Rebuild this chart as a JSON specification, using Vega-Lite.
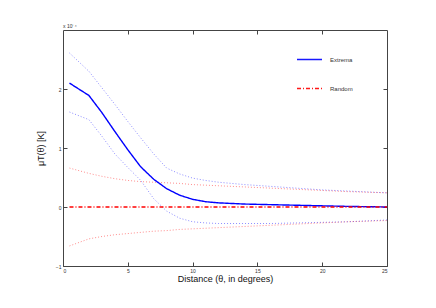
{
  "$schema": "https://vega.github.io/schema/vega-lite/v6.json",
  "width": 324,
  "height": 236,
  "autosize": {"type": "none"},
  "padding": {"left": 63, "top": 30, "right": 49, "bottom": 42},
  "background": "white",
  "config": {
    "font": "Liberation Sans",
    "view": {"stroke": "#444", "strokeWidth": 1},
    "axis": {"grid": false, "domain": false, "tickColor": "#444", "labelColor": "#333", "labelFontSize": 5, "tickSize": -4, "labelPadding": 6, "titleFontWeight": "normal", "titleColor": "#111"}
  },
  "title": {"text": "x 10⁻⁴", "anchor": "start", "fontSize": 5, "fontWeight": "normal", "color": "#333", "offset": 1, "frame": "group"},
  "datasets": {
    "d": [
      {"x":0.5,"series":"Extrema","stat":"mean","y":2.10},
      {"x":2,"series":"Extrema","stat":"mean","y":1.89},
      {"x":3,"series":"Extrema","stat":"mean","y":1.60},
      {"x":4,"series":"Extrema","stat":"mean","y":1.28},
      {"x":5,"series":"Extrema","stat":"mean","y":0.97},
      {"x":6,"series":"Extrema","stat":"mean","y":0.68},
      {"x":7,"series":"Extrema","stat":"mean","y":0.47},
      {"x":8,"series":"Extrema","stat":"mean","y":0.31},
      {"x":9,"series":"Extrema","stat":"mean","y":0.20},
      {"x":10,"series":"Extrema","stat":"mean","y":0.13},
      {"x":11,"series":"Extrema","stat":"mean","y":0.09},
      {"x":12,"series":"Extrema","stat":"mean","y":0.07},
      {"x":14,"series":"Extrema","stat":"mean","y":0.05},
      {"x":16,"series":"Extrema","stat":"mean","y":0.04},
      {"x":18,"series":"Extrema","stat":"mean","y":0.03},
      {"x":20,"series":"Extrema","stat":"mean","y":0.02},
      {"x":22,"series":"Extrema","stat":"mean","y":0.01},
      {"x":25,"series":"Extrema","stat":"mean","y":0.0},
      {"x":0.5,"series":"Extrema","stat":"upper","y":2.61},
      {"x":2,"series":"Extrema","stat":"upper","y":2.30},
      {"x":3,"series":"Extrema","stat":"upper","y":2.02},
      {"x":4,"series":"Extrema","stat":"upper","y":1.74},
      {"x":5,"series":"Extrema","stat":"upper","y":1.45},
      {"x":6,"series":"Extrema","stat":"upper","y":1.17},
      {"x":7,"series":"Extrema","stat":"upper","y":0.90},
      {"x":8,"series":"Extrema","stat":"upper","y":0.66},
      {"x":9,"series":"Extrema","stat":"upper","y":0.56},
      {"x":10,"series":"Extrema","stat":"upper","y":0.49},
      {"x":11,"series":"Extrema","stat":"upper","y":0.45},
      {"x":12,"series":"Extrema","stat":"upper","y":0.42},
      {"x":14,"series":"Extrema","stat":"upper","y":0.38},
      {"x":16,"series":"Extrema","stat":"upper","y":0.35},
      {"x":18,"series":"Extrema","stat":"upper","y":0.32},
      {"x":20,"series":"Extrema","stat":"upper","y":0.29},
      {"x":22,"series":"Extrema","stat":"upper","y":0.27},
      {"x":25,"series":"Extrema","stat":"upper","y":0.24},
      {"x":0.5,"series":"Extrema","stat":"lower","y":1.61},
      {"x":2,"series":"Extrema","stat":"lower","y":1.48},
      {"x":3,"series":"Extrema","stat":"lower","y":1.20},
      {"x":4,"series":"Extrema","stat":"lower","y":0.90},
      {"x":5,"series":"Extrema","stat":"lower","y":0.67},
      {"x":6,"series":"Extrema","stat":"lower","y":0.45},
      {"x":7,"series":"Extrema","stat":"lower","y":0.14},
      {"x":8,"series":"Extrema","stat":"lower","y":-0.07},
      {"x":9,"series":"Extrema","stat":"lower","y":-0.19},
      {"x":10,"series":"Extrema","stat":"lower","y":-0.25},
      {"x":11,"series":"Extrema","stat":"lower","y":-0.27},
      {"x":12,"series":"Extrema","stat":"lower","y":-0.28},
      {"x":14,"series":"Extrema","stat":"lower","y":-0.28},
      {"x":16,"series":"Extrema","stat":"lower","y":-0.28},
      {"x":18,"series":"Extrema","stat":"lower","y":-0.27},
      {"x":20,"series":"Extrema","stat":"lower","y":-0.26},
      {"x":22,"series":"Extrema","stat":"lower","y":-0.25},
      {"x":25,"series":"Extrema","stat":"lower","y":-0.22},
      {"x":0.5,"series":"Random","stat":"mean","y":0},
      {"x":25,"series":"Random","stat":"mean","y":0},
      {"x":0.5,"series":"Random","stat":"upper","y":0.66},
      {"x":2,"series":"Random","stat":"upper","y":0.57},
      {"x":3,"series":"Random","stat":"upper","y":0.52},
      {"x":4,"series":"Random","stat":"upper","y":0.48},
      {"x":5,"series":"Random","stat":"upper","y":0.45},
      {"x":6,"series":"Random","stat":"upper","y":0.43},
      {"x":7,"series":"Random","stat":"upper","y":0.42},
      {"x":8,"series":"Random","stat":"upper","y":0.41},
      {"x":9,"series":"Random","stat":"upper","y":0.40},
      {"x":10,"series":"Random","stat":"upper","y":0.38},
      {"x":12,"series":"Random","stat":"upper","y":0.36},
      {"x":14,"series":"Random","stat":"upper","y":0.34},
      {"x":16,"series":"Random","stat":"upper","y":0.32},
      {"x":18,"series":"Random","stat":"upper","y":0.30},
      {"x":20,"series":"Random","stat":"upper","y":0.28},
      {"x":22,"series":"Random","stat":"upper","y":0.26},
      {"x":25,"series":"Random","stat":"upper","y":0.24},
      {"x":0.5,"series":"Random","stat":"lower","y":-0.66},
      {"x":2,"series":"Random","stat":"lower","y":-0.54},
      {"x":3,"series":"Random","stat":"lower","y":-0.50},
      {"x":4,"series":"Random","stat":"lower","y":-0.47},
      {"x":5,"series":"Random","stat":"lower","y":-0.45},
      {"x":6,"series":"Random","stat":"lower","y":-0.43},
      {"x":7,"series":"Random","stat":"lower","y":-0.41},
      {"x":8,"series":"Random","stat":"lower","y":-0.40},
      {"x":9,"series":"Random","stat":"lower","y":-0.38},
      {"x":10,"series":"Random","stat":"lower","y":-0.37},
      {"x":12,"series":"Random","stat":"lower","y":-0.35},
      {"x":14,"series":"Random","stat":"lower","y":-0.33},
      {"x":16,"series":"Random","stat":"lower","y":-0.31},
      {"x":18,"series":"Random","stat":"lower","y":-0.29},
      {"x":20,"series":"Random","stat":"lower","y":-0.27},
      {"x":22,"series":"Random","stat":"lower","y":-0.25},
      {"x":25,"series":"Random","stat":"lower","y":-0.23}
    ]
  },
  "data": {"name": "d"},
  "layer": [
    {
      "transform": [{"filter": "datum.stat != 'mean'"}],
      "mark": {"type": "line", "strokeWidth": 1, "strokeDash": [1, 2], "opacity": 0.45},
      "encoding": {
        "x": {"field": "x", "type": "quantitative", "scale": {"domain": [0, 25], "nice": false, "zero": false},
          "axis": {"orient": "bottom", "values": [0, 5, 10, 15, 20, 25], "title": "Distance (θ, in degrees)", "titleFontSize": 9, "titlePadding": 1}},
        "y": {"field": "y", "type": "quantitative", "scale": {"domain": [-1, 3], "nice": false, "zero": false},
          "axis": {"orient": "left", "values": [-1, 0, 1, 2], "title": "μT(θ) [K]", "titleFontSize": 9, "titlePadding": 10}},
        "color": {"field": "series", "type": "nominal", "scale": {"domain": ["Extrema", "Random"], "range": ["#0000ff", "#ff0000"]},
          "legend": {"title": null, "orient": "none", "legendX": 233, "legendY": 16, "symbolType": "stroke", "symbolSize": 625, "symbolStrokeWidth": 1.5, "symbolOpacity": 0.9, "labelFontSize": 6, "labelColor": "#333", "rowPadding": 12, "labelOffset": 7}},
        "detail": {"field": "stat"}
      }
    },
    {
      "transform": [{"filter": "datum.stat == 'mean'"}],
      "mark": {"type": "line", "strokeWidth": 1.4},
      "encoding": {
        "x": {"field": "x", "type": "quantitative", "axis": {"orient": "top", "values": [5, 10, 15, 20], "labels": false, "title": null}},
        "y": {"field": "y", "type": "quantitative", "axis": {"orient": "right", "values": [-1, 0, 1, 2], "labels": false, "title": null}},
        "color": {"field": "series", "type": "nominal", "scale": {"domain": ["Extrema", "Random"], "range": ["#0000ff", "#ff0000"]},
          "legend": {"title": null, "orient": "none", "legendX": 233, "legendY": 16, "symbolType": "stroke", "symbolSize": 625, "symbolStrokeWidth": 1.5, "symbolOpacity": 0.9, "labelFontSize": 6, "labelColor": "#333", "rowPadding": 12, "labelOffset": 7}},
        "strokeDash": {"field": "series", "type": "nominal", "scale": {"domain": ["Extrema", "Random"], "range": [[1, 0], [4, 2, 1, 2]]}, "legend": null}
      }
    }
  ],
  "resolve": {"axis": {"x": "independent", "y": "independent"}, "scale": {"x": "shared", "y": "shared"}}
}
